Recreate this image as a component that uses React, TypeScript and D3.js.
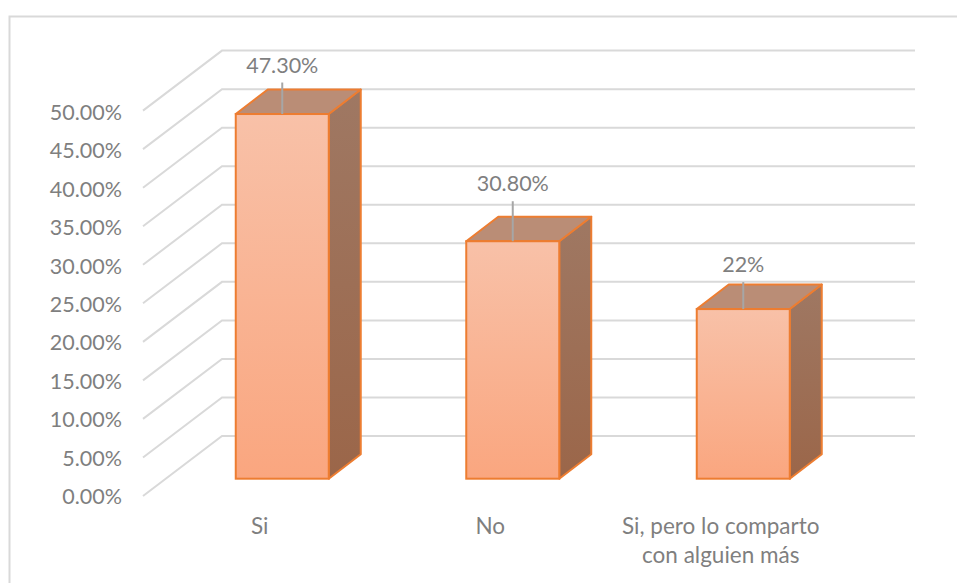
import React from "react";
import * as d3 from "d3";

const categories = ["Si", "No", "Si, pero lo comparto"];
const categorySecondLines = ["", "", "con alguien más"];
const values = [47.3, 30.8, 22];
const valueLabels = ["47.30%", "30.80%", "22%"];
const ticks = [0, 5, 10, 15, 20, 25, 30, 35, 40, 45, 50];

const WIDTH = 957;
const HEIGHT = 583;
const FONT = "Lato, Carlito, sans-serif";
const TEXT = "#7f7f7f";
const GRID = "#d9d9d9";
const EDGE = "#ed7d31";

// Oblique projection: the depth axis runs up and to the right.
const wallDepth = { dx: 79, dy: -60 };
const barDepth = { dx: 32, dy: -24.5 };
const barFront = 478.7;
const barWidth = 93;

const wallY = d3.scaleLinear().domain([0, 50]).range([436, 50.6]);
const tickBaseline = d3.scaleLinear().domain([0, 50]).range([504, 120]);
const barHeight = d3.scaleLinear().domain([0, 50]).range([0, 385.5]);
const x = d3
  .scaleBand<number>()
  .domain(d3.range(categories.length))
  .range([167.5, 859])
  .paddingInner(0)
  .paddingOuter(0);

const wallLeft = 222;
const wallRight = 915;

// Length of each data label's leader line, set per bar.
const leaderLengths = [31.5, 40, 27];

export default function App() {
  return (
    <svg
      width={WIDTH}
      height={HEIGHT}
      viewBox={`0 0 ${WIDTH} ${HEIGHT}`}
      style={{ position: "absolute", left: 0, top: 0, display: "block" }}
      fontFamily={FONT}
    >
      <defs>
        <linearGradient id="front" x1="0" y1="0" x2="0" y2="1">
          <stop offset="0" stopColor="#f8c1a8" />
          <stop offset="1" stopColor="#faa67f" />
        </linearGradient>
        <linearGradient id="side" x1="0" y1="0" x2="0" y2="1">
          <stop offset="0" stopColor="#9f7863" />
          <stop offset="1" stopColor="#9b6649" />
        </linearGradient>
      </defs>
      <rect width={WIDTH} height={HEIGHT} fill="#ffffff" />
      <path
        d={`M9.5 ${HEIGHT} V16.5 H${WIDTH}`}
        fill="none"
        stroke={GRID}
        strokeWidth={2}
      />

      {ticks.map((t) => {
        const yBack = wallY(t);
        return (
          <g key={t}>
            <path
              d={`M${wallLeft - wallDepth.dx} ${yBack - wallDepth.dy} L${wallLeft} ${yBack} H${wallRight}`}
              fill="none"
              stroke={GRID}
              strokeWidth={2}
            />
            <text
              x={122}
              y={tickBaseline(t)}
              textAnchor="end"
              fontSize={21.5}
              fill={TEXT}
            >
              {`${t.toFixed(2)}%`}
            </text>
          </g>
        );
      })}

      {values.map((v, i) => {
        const band = x(i) as number;
        const left = band + (x.bandwidth() - barWidth) / 2 - 0.5;
        const right = left + barWidth;
        const top = barFront - barHeight(v);
        const { dx, dy } = barDepth;
        const mid = (left + right) / 2;
        const leader = leaderLengths[i];
        return (
          <g key={categories[i]}>
            <path
              d={`M${right} ${top} L${right + dx} ${top + dy} V${barFront + dy} L${right} ${barFront} Z`}
              fill="url(#side)"
              stroke={EDGE}
              strokeWidth={2}
              strokeLinejoin="round"
            />
            <path
              d={`M${left} ${top} L${left + dx} ${top + dy} H${right + dx} L${right} ${top} Z`}
              fill="#ba8d76"
              stroke={EDGE}
              strokeWidth={2}
              strokeLinejoin="round"
            />
            <rect
              x={left}
              y={top}
              width={barWidth}
              height={barHeight(v)}
              fill="url(#front)"
              stroke={EDGE}
              strokeWidth={2}
            />
            <line
              x1={mid}
              x2={mid}
              y1={top - leader}
              y2={top}
              stroke="#a6a6a6"
              strokeWidth={2}
            />
            <text
              x={mid}
              y={top - leader - 10}
              textAnchor="middle"
              fontSize={21.5}
              fill={TEXT}
            >
              {valueLabels[i]}
            </text>
          </g>
        );
      })}

      {categories.map((c, i) => {
        const band = x(i) as number;
        const cx = band + x.bandwidth() / 2 - 23;
        return (
          <text key={c} x={cx} textAnchor="middle" fontSize={22.5} fill={TEXT}>
            <tspan x={cx} y={534}>
              {c}
            </tspan>
            {categorySecondLines[i] && (
              <tspan x={cx} y={563}>
                {categorySecondLines[i]}
              </tspan>
            )}
          </text>
        );
      })}
    </svg>
  );
}
